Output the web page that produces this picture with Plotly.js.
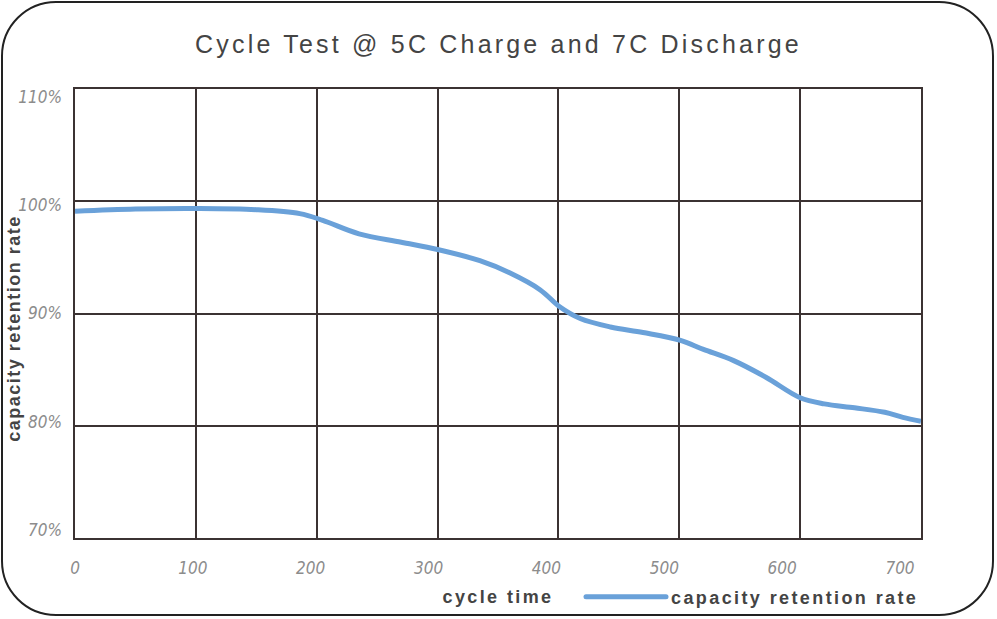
<!DOCTYPE html>
<html>
<head>
<meta charset="utf-8">
<script src="https://cdn.plot.ly/plotly-3.0.1.min.js"></script>
<style>
  html, body { margin: 0; padding: 0; background: #fff; }
  #wrap { position: relative; width: 997px; height: 619px; }
  #chart { position: absolute; left: 0; top: 0; width: 997px; height: 619px; }
  #frame { position: absolute; left: 1px; top: 1px; width: 993px; height: 615px; box-sizing: border-box;
           border: 2px solid #222; border-radius: 55px; pointer-events: none; }
  .gtitle { letter-spacing: 3.2px; }
  .xtitle, .x2title, .legendtext { letter-spacing: 2.4px; }
  .ytitle, .y2title { letter-spacing: 1.5px; }
  .legendlines path { stroke-linecap: round; }
</style>
</head>
<body>
<div id="wrap">
  <div id="chart"></div>
  <div id="frame"></div>
</div>
<script>
// Data
const cycles = [0, 50, 100, 150, 186, 205, 235, 270, 300, 335, 360, 385, 401, 418, 443, 470, 501, 520, 545, 572, 600, 620, 645, 670, 685, 700];
const retention = [99.1, 99.3, 99.35, 99.25, 98.9, 98.3, 97.1, 96.35, 95.7, 94.7, 93.6, 92.1, 90.6, 89.55, 88.8, 88.3, 87.6, 86.8, 85.8, 84.3, 82.5, 81.95, 81.6, 81.2, 80.75, 80.4];
const xTickVals = [0, 100, 200, 300, 400, 500, 600, 700];
const xTickText = ['0', '100', '200', '300', '400', '500', '600', '700'];
const yTickVals = [70, 80, 90, 100, 110];
const yTickText = ['70%', '80%', '90%', '100%', '110%'];
const seriesName = 'capacity retention rate';

const gridCol = '#3b3232';
const tickFont = { family: 'Liberation Sans Narrow, DejaVu Sans Condensed, Arial Narrow, sans-serif', size: 17, color: '#8c8c8c', style: 'italic' };
const boldFont = { family: 'Liberation Sans, Arial, sans-serif', size: 18, color: '#444', weight: 'bold' };

const trace = {
  x: cycles, y: retention, type: 'scatter', mode: 'lines', name: seriesName,
  line: { color: '#6aa1d9', width: 5, shape: 'spline', smoothing: 1 },
  showlegend: true
};

const layout = {
  width: 997, height: 619,
  margin: { l: 75, r: 76, t: 89, b: 81, autoexpand: false },
  paper_bgcolor: '#fff', plot_bgcolor: '#fff',
  title: { text: 'Cycle Test @ 5C Charge and 7C Discharge', x: 0.5, xanchor: 'center', y: 1 - 44 / 619, yanchor: 'middle',
           font: { family: 'Liberation Sans, Arial, sans-serif', size: 25, color: '#444' } },
  xaxis: { range: [0, 700], dtick: 100, tick0: 0, showgrid: true, gridcolor: gridCol, gridwidth: 2,
           showline: true, mirror: true, linecolor: gridCol, linewidth: 2, zeroline: false,
           showticklabels: false, ticks: '', fixedrange: true },
  yaxis: { range: [70, 110], dtick: 10, tick0: 70, showgrid: true, gridcolor: gridCol, gridwidth: 2,
           showline: true, mirror: true, linecolor: gridCol, linewidth: 2, zeroline: false,
           showticklabels: false, ticks: '', fixedrange: true },
  xaxis2: { overlaying: 'x', anchor: 'y', side: 'bottom', range: [0, 700 * 846 / 825],
            tickmode: 'array', tickvals: xTickVals, ticktext: xTickText, tickfont: tickFont,
            showgrid: false, showline: false, zeroline: false, ticks: '', ticklabelstandoff: 18,
            title: { text: 'cycle time', font: boldFont, standoff: 13 } },
  yaxis2: { overlaying: 'y', anchor: 'x', side: 'left', range: [69.26, 110.74],
            tickmode: 'array', tickvals: yTickVals, ticktext: yTickText, tickfont: tickFont,
            showgrid: false, showline: false, zeroline: false, ticks: '', ticklabelstandoff: 12,
            title: { text: 'capacity retention rate', font: boldFont, standoff: 2 } },
  showlegend: true,
  legend: { orientation: 'h', x: (581 - 75) / 846, xanchor: 'left', y: (538 - 597) / 449, yanchor: 'middle',
            itemwidth: 80, font: boldFont, bgcolor: 'rgba(0,0,0,0)' }
};

// invisible helper trace so that the overlay axes are drawn
const helper = { x: [0], y: [90], xaxis: 'x2', yaxis: 'y2', type: 'scatter', mode: 'markers',
                 marker: { opacity: 0 }, showlegend: false, hoverinfo: 'skip' };

function shiftYTitle(gd) {
  const t = gd.querySelector('.y2title');
  if (t && !t.dataset.moved) {
    const x = parseFloat(t.getAttribute('x')) + 4;
    const y = parseFloat(t.getAttribute('y')) + 15;
    t.setAttribute('x', x);
    t.setAttribute('y', y);
    t.setAttribute('transform', 'rotate(-90,' + x + ',' + y + ')');
    t.dataset.moved = '1';
  }
}

Plotly.newPlot('chart', [trace, helper], layout, { displayModeBar: false, staticPlot: true }).then(shiftYTitle);
</script>
</body>
</html>
